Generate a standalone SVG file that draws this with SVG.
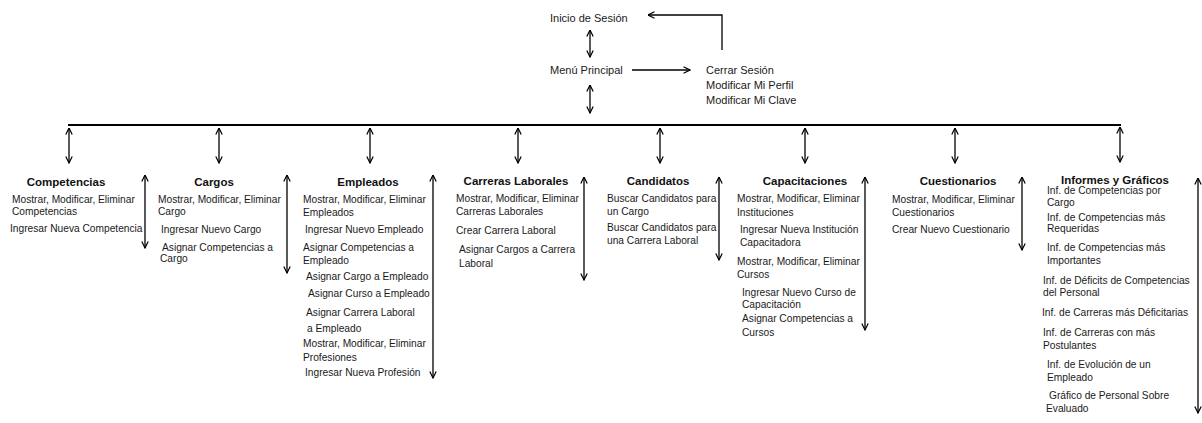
<svg xmlns="http://www.w3.org/2000/svg" width="1202" height="423" viewBox="0 0 1202 423">
<style>
.t{font-family:"Liberation Sans",Arial,sans-serif;font-size:10.2px;fill:#1a1a1a}
.top{font-family:"Liberation Sans",Arial,sans-serif;font-size:11px;fill:#1a1a1a}
.h{font-family:"Liberation Sans",Arial,sans-serif;font-size:11.5px;font-weight:bold;fill:#111;text-anchor:middle}
.c{stroke:#000;stroke-width:1.3;fill:none}
.da{marker-start:url(#ah);marker-end:url(#ah)}
.sa{marker-end:url(#ah)}
</style>
<defs>
<marker id="ah" viewBox="0 0 8 8" refX="7.5" refY="4" markerWidth="8" markerHeight="8" markerUnits="userSpaceOnUse" orient="auto-start-reverse">
<path d="M1,0.8 L7.5,4 L1,7.2" fill="none" stroke="#000" stroke-width="1.2"/>
</marker>
</defs>
<rect width="1202" height="423" fill="#fff"/>
<g id="connectors">
<line class="c da" x1="590" y1="30" x2="590" y2="57"/>
<line class="c da" x1="590" y1="85" x2="590" y2="113"/>
<line class="c sa" x1="632" y1="70" x2="690" y2="70"/>
<polyline class="c sa" points="722,50 722,15 648,15"/>
<line x1="68" y1="125" x2="1121" y2="125" stroke="#000" stroke-width="1.8"/>
<line class="c da" x1="69" y1="128" x2="69" y2="163"/>
<line class="c da" x1="219" y1="128" x2="219" y2="163"/>
<line class="c da" x1="370" y1="128" x2="370" y2="163"/>
<line class="c da" x1="518" y1="128" x2="518" y2="163"/>
<line class="c da" x1="660" y1="128" x2="660" y2="163"/>
<line class="c da" x1="805" y1="128" x2="805" y2="163"/>
<line class="c da" x1="955" y1="128" x2="955" y2="163"/>
<line class="c da" x1="1120" y1="127" x2="1120" y2="162"/>
<line class="c da" x1="145" y1="175" x2="145" y2="248"/>
<line class="c da" x1="287" y1="175" x2="287" y2="273"/>
<line class="c da" x1="433" y1="175" x2="433" y2="378"/>
<line class="c da" x1="584" y1="177" x2="584" y2="280"/>
<line class="c da" x1="719" y1="177" x2="719" y2="260"/>
<line class="c da" x1="865" y1="177" x2="865" y2="330"/>
<line class="c da" x1="1022" y1="177" x2="1022" y2="250"/>
<line class="c da" x1="1198" y1="178" x2="1198" y2="413"/>
</g>
<g id="inicio"><text class="top" x="550" y="22">Inicio de Sesión</text></g>
<g id="menu"><text class="top" x="550" y="74">Menú Principal</text></g>
<g id="sesion">
<text class="top" x="706" y="74">Cerrar Sesión</text>
<text class="top" x="706" y="89">Modificar Mi Perfil</text>
<text class="top" x="706" y="104">Modificar Mi Clave</text>
</g>
<g id="competencias">
<text class="h" x="66" y="186">Competencias</text>
<text class="t" x="12" y="203">Mostrar, Modificar, Eliminar</text>
<text class="t" x="12" y="215">Competencias</text>
<text class="t" x="10" y="232">Ingresar Nueva Competencia</text>
</g>
<g id="cargos">
<text class="h" x="214" y="186">Cargos</text>
<text class="t" x="158" y="203">Mostrar, Modificar, Eliminar</text>
<text class="t" x="158" y="215">Cargo</text>
<text class="t" x="161" y="233">Ingresar Nuevo Cargo</text>
<text class="t" x="162" y="251">Asignar Competencias a</text>
<text class="t" x="160" y="262">Cargo</text>
</g>
<g id="empleados">
<text class="h" x="368" y="186">Empleados</text>
<text class="t" x="303" y="203">Mostrar, Modificar, Eliminar</text>
<text class="t" x="303" y="216">Empleados</text>
<text class="t" x="305" y="233">Ingresar Nuevo Empleado</text>
<text class="t" x="303" y="251">Asignar Competencias  a</text>
<text class="t" x="303" y="264">Empleado</text>
<text class="t" x="306" y="280">Asignar Cargo a Empleado</text>
<text class="t" x="308" y="297">Asignar Curso a Empleado</text>
<text class="t" x="306" y="316">Asignar Carrera Laboral</text>
<text class="t" x="307" y="332">a Empleado</text>
<text class="t" x="303" y="347">Mostrar, Modificar, Eliminar</text>
<text class="t" x="303" y="361">Profesiones</text>
<text class="t" x="305" y="376">Ingresar Nueva Profesión</text>
</g>
<g id="carreras">
<text class="h" x="516" y="185">Carreras Laborales</text>
<text class="t" x="456" y="202">Mostrar, Modificar, Eliminar</text>
<text class="t" x="456" y="215">Carreras Laborales</text>
<text class="t" x="456" y="234">Crear Carrera Laboral</text>
<text class="t" x="459" y="253">Asignar Cargos a Carrera</text>
<text class="t" x="459" y="267">Laboral</text>
</g>
<g id="candidatos">
<text class="h" x="658" y="185">Candidatos</text>
<text class="t" x="607" y="202">Buscar Candidatos para</text>
<text class="t" x="607" y="215">un Cargo</text>
<text class="t" x="607" y="231">Buscar Candidatos para</text>
<text class="t" x="607" y="244">una Carrera Laboral</text>
</g>
<g id="capacitaciones">
<text class="h" x="805" y="185">Capacitaciones</text>
<text class="t" x="737" y="202">Mostrar, Modificar, Eliminar</text>
<text class="t" x="737" y="216">Instituciones</text>
<text class="t" x="740" y="233">Ingresar Nueva Institución</text>
<text class="t" x="740" y="246">Capacitadora</text>
<text class="t" x="737" y="265">Mostrar, Modificar, Eliminar</text>
<text class="t" x="737" y="278">Cursos</text>
<text class="t" x="742" y="296">Ingresar Nuevo Curso de</text>
<text class="t" x="742" y="308">Capacitación</text>
<text class="t" x="742" y="322">Asignar Competencias  a</text>
<text class="t" x="742" y="336">Cursos</text>
</g>
<g id="cuestionarios">
<text class="h" x="958" y="185">Cuestionarios</text>
<text class="t" x="892" y="203">Mostrar, Modificar, Eliminar</text>
<text class="t" x="892" y="216">Cuestionarios</text>
<text class="t" x="892" y="233">Crear Nuevo Cuestionario</text>
</g>
<g id="informes">
<text class="h" x="1115" y="184">Informes y Gráficos</text>
<text class="t" x="1047" y="194">Inf. de Competencias por</text>
<text class="t" x="1047" y="206">Cargo</text>
<text class="t" x="1047" y="221">Inf. de Competencias más</text>
<text class="t" x="1047" y="232">Requeridas</text>
<text class="t" x="1047" y="251">Inf. de Competencias más</text>
<text class="t" x="1047" y="264">Importantes</text>
<text class="t" x="1043" y="284">Inf. de Déficits de Competencias</text>
<text class="t" x="1043" y="296">del Personal</text>
<text class="t" x="1042" y="316">Inf. de Carreras más Déficitarias</text>
<text class="t" x="1043" y="336">Inf. de Carreras con más</text>
<text class="t" x="1043" y="349">Postulantes</text>
<text class="t" x="1047" y="368">Inf. de Evolución de un</text>
<text class="t" x="1047" y="381">Empleado</text>
<text class="t" x="1049" y="399">Gráfico de Personal Sobre</text>
<text class="t" x="1046" y="412">Evaluado</text>
</g>
</svg>
